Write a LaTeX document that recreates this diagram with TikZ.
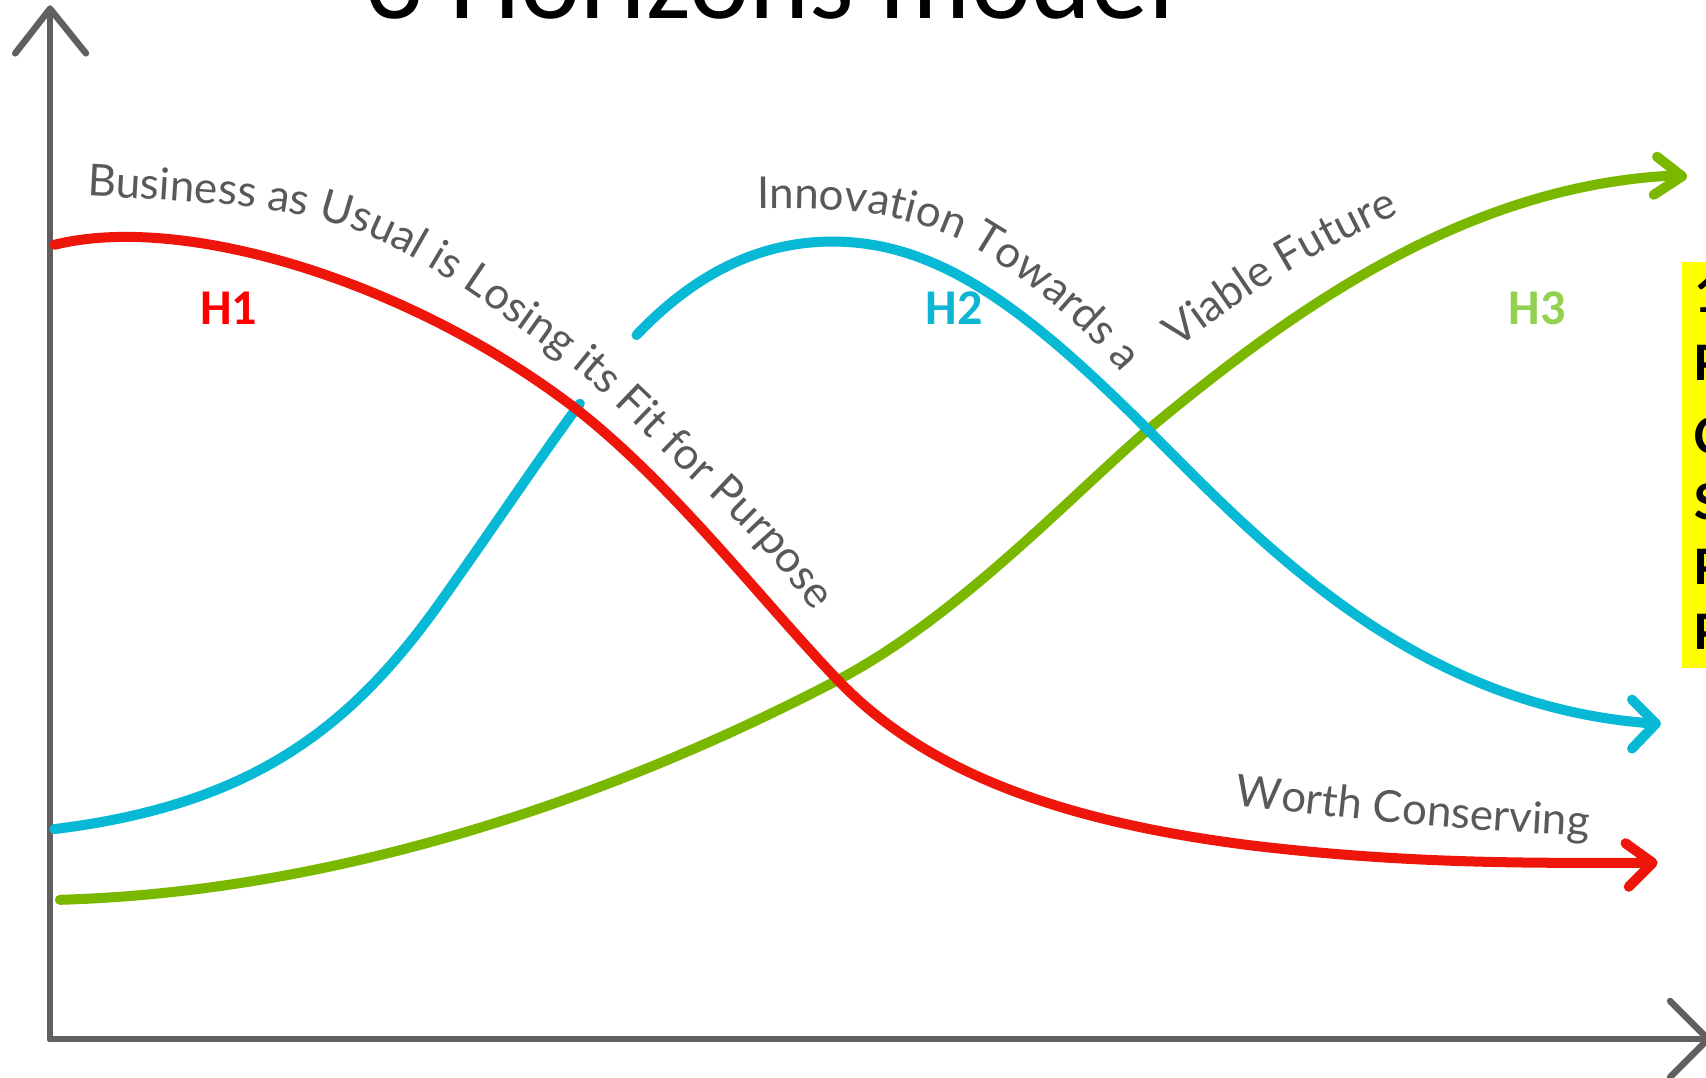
\documentclass[tikz,border=0pt]{standalone}
\usepackage{fontspec}
\setmainfont{Carlito}
\newfontfamily\curvefamily{Lato}
\usetikzlibrary{decorations.text}
\definecolor{axisgray}{HTML}{606060}
\definecolor{txtgray}{HTML}{595959}
\definecolor{hred}{HTML}{EE150A}
\definecolor{hcyan}{HTML}{08B9D6}
\definecolor{hgreen}{HTML}{7AB800}
\definecolor{labred}{HTML}{FF0000}
\definecolor{labcyan}{HTML}{0EB6D4}
\definecolor{labgreen}{HTML}{92D050}
\definecolor{boxyellow}{HTML}{FFFF00}
% 1 unit = 0.25pt
\newcommand\curvefont{\curvefamily\fontsize{10.1}{11.5}\selectfont\color{txtgray}}
\tikzset{
  axisline/.style={draw=axisgray, line width=1.5pt, line cap=round, line join=round},
  curveline/.style={line width=2.3pt, line cap=round, line join=round},
  hlabel/.style={font=\bfseries\fontsize{11.5}{13}\selectfont, inner sep=0pt},
  boxletter/.style={font=\bfseries\fontsize{12.5}{14}\selectfont, anchor=base west, inner sep=0pt, text=black},
  curvetext/.style={decorate, decoration={text along path, text align=left, text={|\curvefont|#1}}}
}
\begin{document}
\begin{tikzpicture}[x=0.25pt,y=-0.25pt]
\useasboundingbox (0,0) rectangle (1568,990);
% title
\node[anchor=base west, inner sep=0pt, font=\fontsize{26.25}{28}\selectfont] (title) at (335,17) {3 Horizons model};
% yellow box
\fill[boxyellow] (1546,241) rectangle (1600,614);
\node[boxletter] (b1) at (1557,287) {1};
\node[boxletter] (b2) at (1557,350) {P};
\node[boxletter] (b3) at (1557,417) {C};
\node[boxletter] (b4) at (1557,477) {S};
\node[boxletter] (b5) at (1557,537) {P};
\node[boxletter] (b6) at (1557,597) {P};
% axes
\coordinate (origin) at (46,955);
\coordinate (ytop) at (46,8);
\coordinate (xend) at (1570,955);
\draw[axisline] (origin) -- (ytop);
\draw[axisline] (14,49) -- (ytop) -- (79,49);
\draw[axisline] (origin) -- (xend);
\draw[axisline] (1535,920) -- (xend) -- (1535,990);
% green curve H3
\draw[curveline, hgreen] (55,827) .. controls (300,820) and (550,740) .. (770,625)
  .. controls (880,567) and (980,460) .. (1055,395)
  .. controls (1190,283) and (1350,168) .. (1545,161);
\draw[curveline, hgreen] (1523,144) -- (1546,162) -- (1520,179);
% cyan curve H2
\draw[curveline, hcyan] (50,762) .. controls (230,740) and (320,670) .. (400,560)
  .. controls (450,490) and (500,415) .. (533,371);
\draw[curveline, hcyan] (585,308) .. controls (640,250) and (700,222) .. (765,222)
  .. controls (860,222) and (940,280) .. (1055,395)
  .. controls (1160,500) and (1300,650) .. (1520,665);
\draw[curveline, hcyan] (1500,643) -- (1522,665) -- (1500,688);
% red curve H1
\draw[curveline, hred] (50,225) .. controls (170,195) and (380,260) .. (531,377)
  .. controls (620,447) and (700,552) .. (770,625)
  .. controls (840,698) and (950,752) .. (1150,777)
  .. controls (1300,795) and (1420,793) .. (1515,793);
\draw[curveline, hred] (1494,775) -- (1519,793) -- (1497,815);
% labels
\node[hlabel, text=labred] (h1) at (210,283) {H1};
\node[hlabel, text=labcyan] (h2) at (877,283) {H2};
\node[hlabel, text=labgreen] (h3) at (1413,283) {H3};
% curved texts
\path[curvetext={Business as Usual is Losing its Fit for Purpose}]
  plot[smooth, tension=0.6] coordinates {(80,180) (235,191) (330,213) (410,255) (470,296) (539,348) (621,426) (698,501) (770,590) (830,665)};
\path[curvetext={Innovation Towards a}]
  plot[smooth, tension=0.6] coordinates {(696,192) (790,195) (870,215) (930,250) (980,290) (1020,330) (1070,390) (1100,430)};
\path[curvetext={Viable Future}]
  plot[smooth, tension=0.6] coordinates {(1082,320) (1180,252) (1290,195) (1370,170)};
\path[curvetext={Worth Conserving}]
  plot[smooth, tension=0.6] coordinates {(1135,740) (1300,758) (1465,769) (1560,772)};
\end{tikzpicture}
\end{document}
